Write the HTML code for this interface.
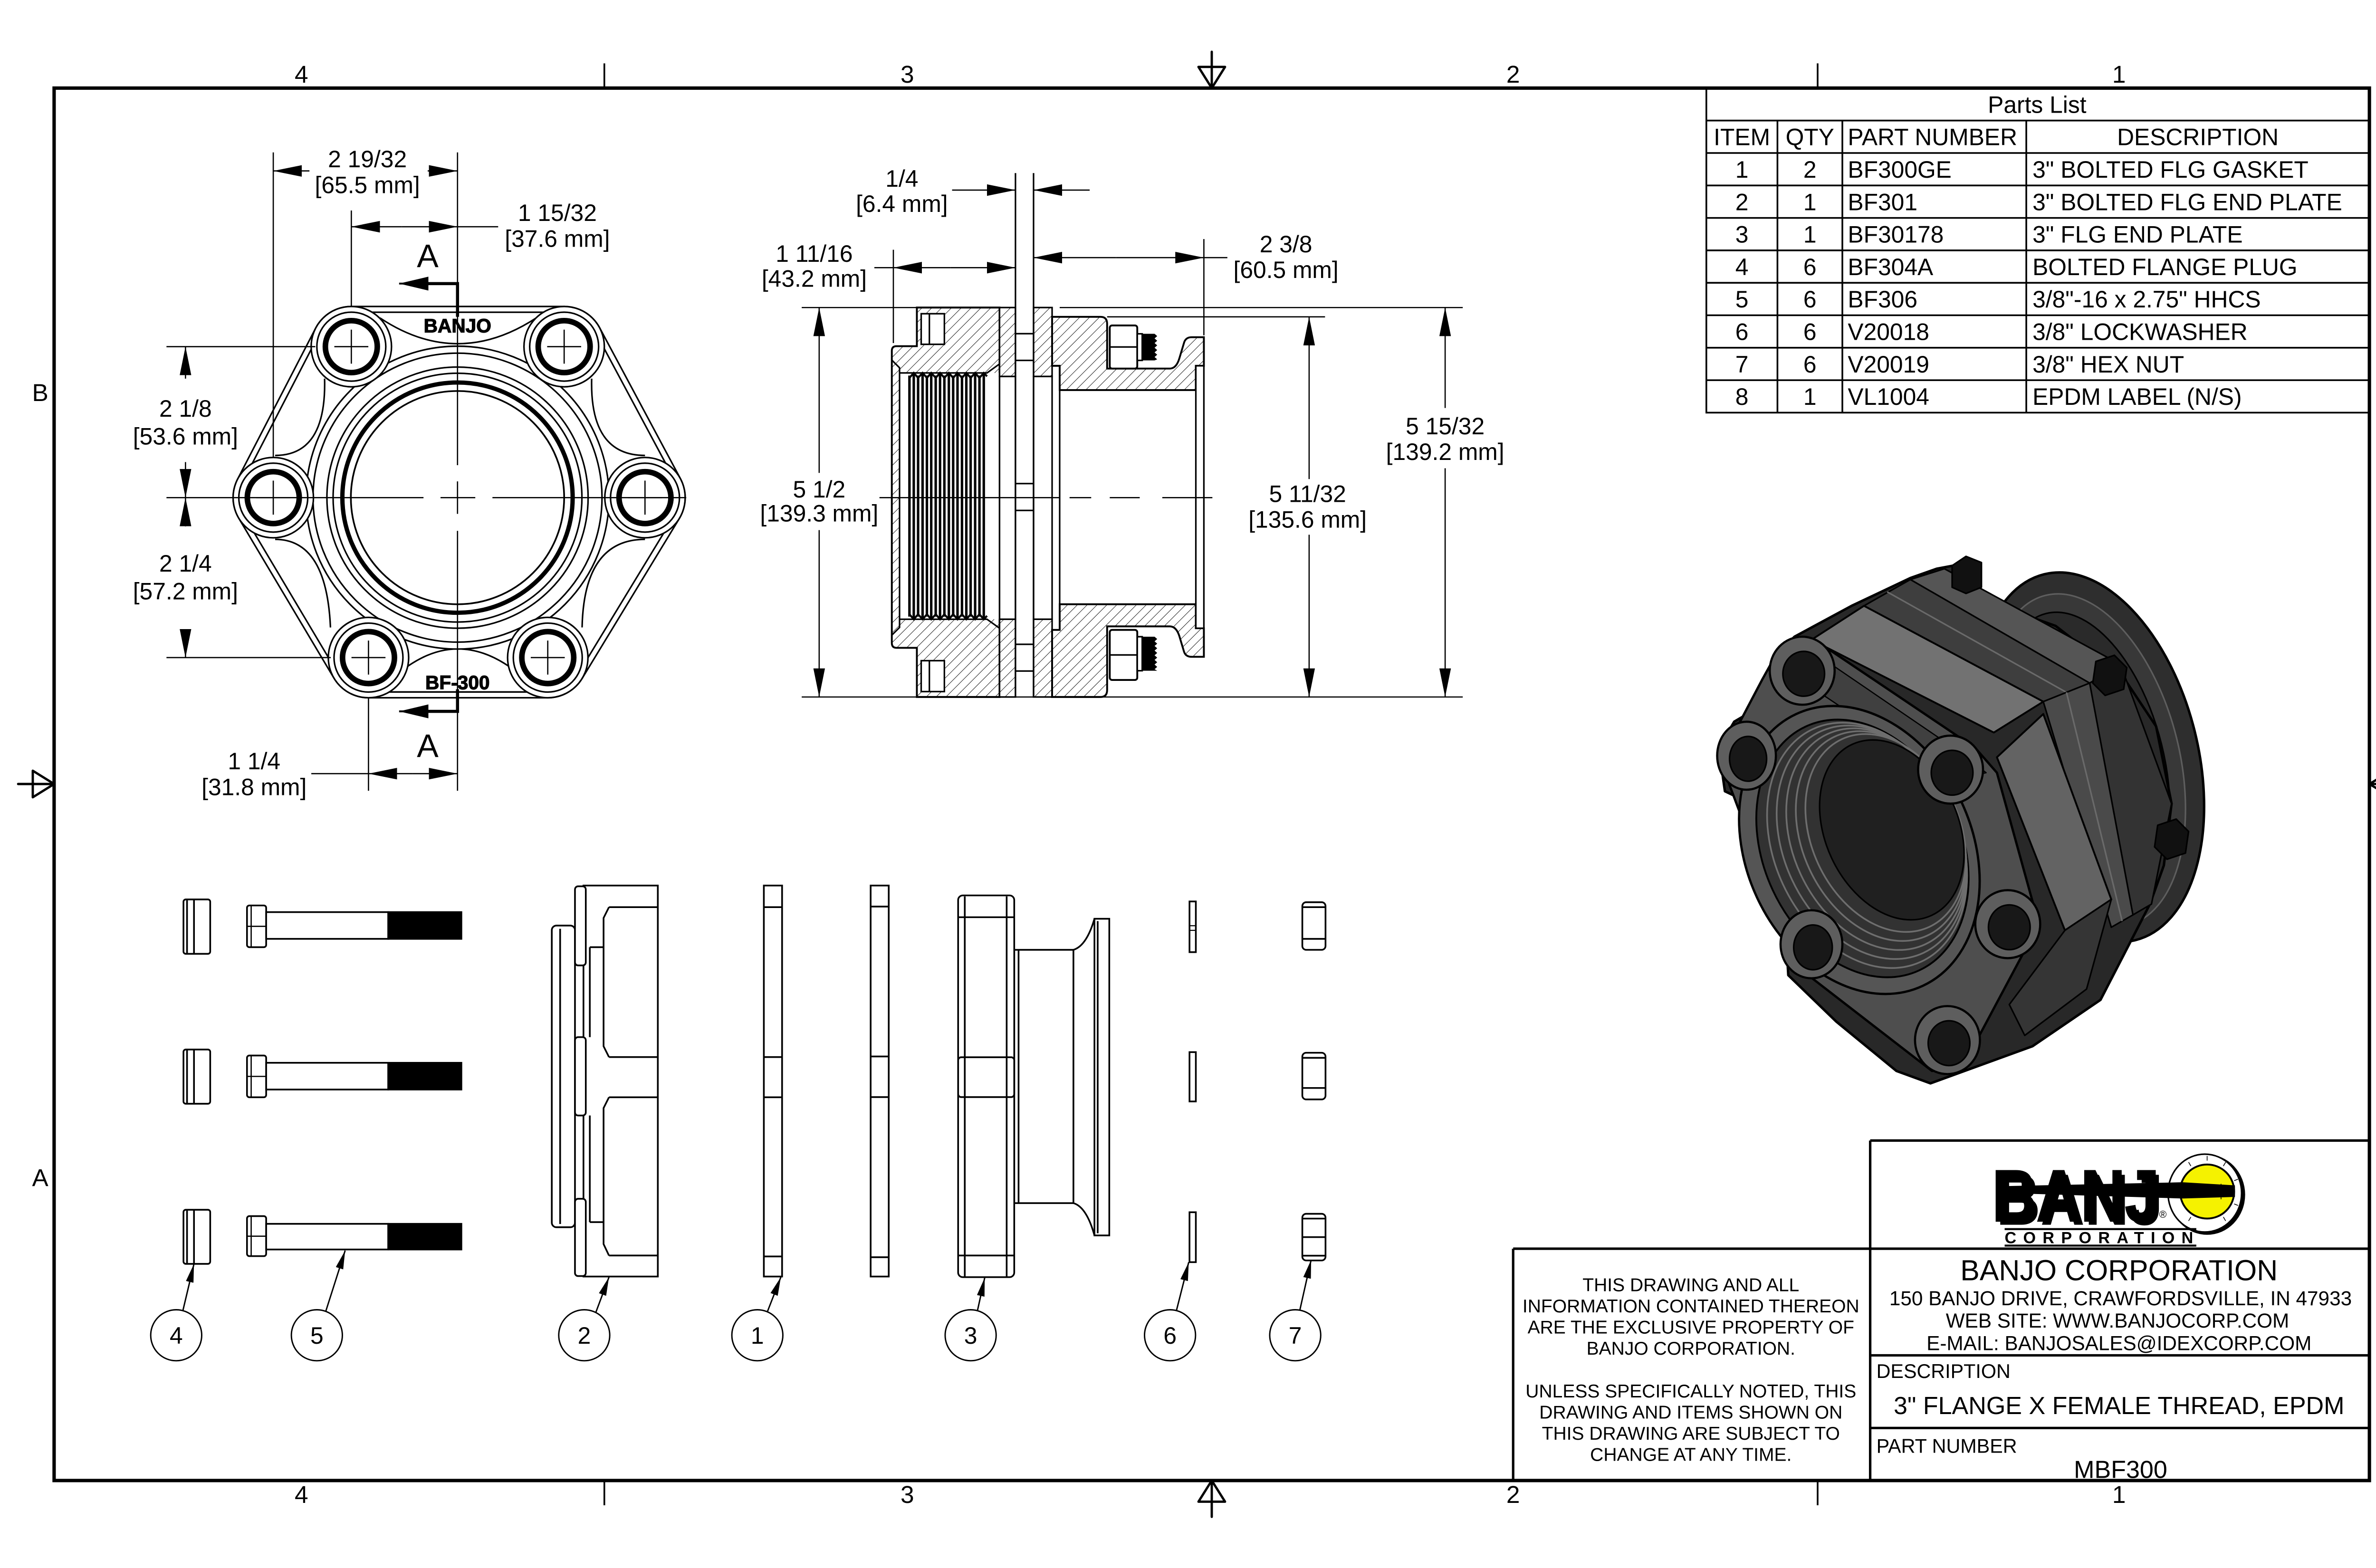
<!DOCTYPE html>
<html><head><meta charset="utf-8">
<style>
html,body{margin:0;padding:0;background:#fff;}
svg{display:block;}
text{font-family:"Liberation Sans",Arial,sans-serif;fill:#000;}
</style></head><body>
<svg xmlns="http://www.w3.org/2000/svg" width="5100" height="3300" viewBox="0 0 1568 1014.6">
<defs>
<pattern id="h" patternUnits="userSpaceOnUse" width="4.5" height="4.5" patternTransform="rotate(45)">
<rect width="4.5" height="4.5" fill="#fff"/>
<line x1="0" y1="0" x2="0" y2="4.5" stroke="#000" stroke-width="0.55"/>
</pattern>
<marker id="a" viewBox="0 0 18.5 7.5" refX="18.5" refY="3.75" markerWidth="18.5" markerHeight="7.5" markerUnits="userSpaceOnUse" orient="auto"><path d="M0,0 L18.5,3.75 L0,7.5 Z" fill="#000"/></marker>
<marker id="s" viewBox="0 0 19 9" refX="19" refY="4.5" markerWidth="19" markerHeight="9" markerUnits="userSpaceOnUse" orient="auto"><path d="M0,0 L19,4.5 L0,9 Z" fill="#000"/></marker>
<marker id="b" viewBox="0 0 12 5" refX="12" refY="2.5" markerWidth="12" markerHeight="5" markerUnits="userSpaceOnUse" orient="auto"><path d="M0,0 L12,2.5 L0,5 Z" fill="#000"/></marker>
</defs>
<rect x="0" y="0" width="1568" height="1014.6" fill="#fff"/>

<!-- ===== BORDER ===== -->
<rect x="35" y="57" width="1498" height="901" fill="none" stroke="#000" stroke-width="2.2"/>
<g stroke="#000" stroke-width="1.1">
<line x1="391" y1="41" x2="391" y2="57"/><line x1="1176" y1="41" x2="1176" y2="57"/>
<line x1="391" y1="958" x2="391" y2="974"/><line x1="1176" y1="958" x2="1176" y2="974"/>
</g>
<g fill="none" stroke="#000" stroke-width="1.5" stroke-linejoin="round" stroke-linecap="round">
<line x1="784" y1="33.5" x2="784" y2="57"/><path d="M775.4,43.3 L792.6,43.3 L784,57 Z"/>
<line x1="784" y1="958" x2="784" y2="981.5"/><path d="M775.4,971.7 L792.6,971.7 L784,958 Z"/>
<line x1="11.7" y1="507.3" x2="35" y2="507.3"/><path d="M21.2,498.7 L21.2,515.9 L35,507.3 Z"/>
<line x1="1533" y1="507.3" x2="1556.6" y2="507.3"/><path d="M1547.3,498.7 L1547.3,515.9 L1533,507.3 Z"/>
</g>
<g font-size="15.8" text-anchor="middle">
<text x="195" y="53.5">4</text><text x="587" y="53.5">3</text><text x="979" y="53.5">2</text><text x="1371" y="53.5">1</text>
<text x="195" y="972.5">4</text><text x="587" y="972.5">3</text><text x="979" y="972.5">2</text><text x="1371" y="972.5">1</text>
<text x="26" y="259.5">B</text><text x="26" y="767.5">A</text>
<text x="1543" y="259.5">B</text><text x="1543" y="767.5">A</text>
</g>

<!-- ===== PARTS LIST ===== -->
<g stroke="#000" stroke-width="1.1" fill="none">
<rect x="1104" y="57" width="429" height="210"/>
<line x1="1104" y1="78" x2="1533" y2="78"/>
<line x1="1104" y1="99" x2="1533" y2="99"/>
<line x1="1104" y1="120" x2="1533" y2="120"/>
<line x1="1104" y1="141" x2="1533" y2="141"/>
<line x1="1104" y1="162" x2="1533" y2="162"/>
<line x1="1104" y1="183" x2="1533" y2="183"/>
<line x1="1104" y1="204" x2="1533" y2="204"/>
<line x1="1104" y1="225" x2="1533" y2="225"/>
<line x1="1104" y1="246" x2="1533" y2="246"/>
<line x1="1150" y1="78" x2="1150" y2="267"/>
<line x1="1192" y1="78" x2="1192" y2="267"/>
<line x1="1311" y1="78" x2="1311" y2="267"/>
</g>
<g font-size="15.3">
<text x="1318" y="73" text-anchor="middle">Parts List</text>
<text x="1127" y="94" text-anchor="middle">ITEM</text>
<text x="1171" y="94" text-anchor="middle">QTY</text>
<text x="1195.5" y="94">PART NUMBER</text>
<text x="1422" y="94" text-anchor="middle">DESCRIPTION</text>
<g text-anchor="middle">
<text x="1127" y="115">1</text><text x="1171" y="115">2</text>
<text x="1127" y="136">2</text><text x="1171" y="136">1</text>
<text x="1127" y="157">3</text><text x="1171" y="157">1</text>
<text x="1127" y="178">4</text><text x="1171" y="178">6</text>
<text x="1127" y="199">5</text><text x="1171" y="199">6</text>
<text x="1127" y="220">6</text><text x="1171" y="220">6</text>
<text x="1127" y="241">7</text><text x="1171" y="241">6</text>
<text x="1127" y="262">8</text><text x="1171" y="262">1</text>
</g>
<text x="1195.5" y="115">BF300GE</text><text x="1315" y="115">3" BOLTED FLG GASKET</text>
<text x="1195.5" y="136">BF301</text><text x="1315" y="136">3" BOLTED FLG END PLATE</text>
<text x="1195.5" y="157">BF30178</text><text x="1315" y="157">3" FLG END PLATE</text>
<text x="1195.5" y="178">BF304A</text><text x="1315" y="178">BOLTED FLANGE PLUG</text>
<text x="1195.5" y="199">BF306</text><text x="1315" y="199">3/8"-16 x 2.75" HHCS</text>
<text x="1195.5" y="220">V20018</text><text x="1315" y="220">3/8" LOCKWASHER</text>
<text x="1195.5" y="241">V20019</text><text x="1315" y="241">3/8" HEX NUT</text>
<text x="1195.5" y="262">VL1004</text><text x="1315" y="262">EPDM LABEL (N/S)</text>
</g>

<!-- ===== TITLE BLOCK ===== -->
<g stroke="#000" stroke-width="1.6" fill="none">
<line x1="1210" y1="738" x2="1533" y2="738"/>
<line x1="1210" y1="738" x2="1210" y2="958"/>
<line x1="979" y1="808" x2="1533" y2="808"/>
<line x1="979" y1="808" x2="979" y2="958"/>
<line x1="1210" y1="877" x2="1533" y2="877"/>
<line x1="1210" y1="924" x2="1533" y2="924"/>
</g>
<g font-size="12" text-anchor="middle">
<text x="1094" y="835.5">THIS DRAWING AND ALL</text>
<text x="1094" y="849.2">INFORMATION CONTAINED THEREON</text>
<text x="1094" y="862.9">ARE THE EXCLUSIVE PROPERTY OF</text>
<text x="1094" y="876.6">BANJO CORPORATION.</text>
<text x="1094" y="904.2">UNLESS SPECIFICALLY NOTED, THIS</text>
<text x="1094" y="917.9">DRAWING AND ITEMS SHOWN ON</text>
<text x="1094" y="931.6">THIS DRAWING ARE SUBJECT TO</text>
<text x="1094" y="945.3">CHANGE AT ANY TIME.</text>
</g>
<text x="1371" y="828.4" font-size="18.7" text-anchor="middle">BANJO CORPORATION</text>
<g font-size="13" text-anchor="middle">
<text x="1372" y="844.6">150 BANJO DRIVE, CRAWFORDSVILLE, IN 47933</text>
<text x="1370" y="859.1">WEB SITE: WWW.BANJOCORP.COM</text>
<text x="1371" y="873.6">E-MAIL: BANJOSALES@IDEXCORP.COM</text>
</g>
<text x="1214" y="891.6" font-size="12.7">DESCRIPTION</text>
<text x="1371" y="915" font-size="16" text-anchor="middle">3" FLANGE X FEMALE THREAD, EPDM</text>
<text x="1214" y="940" font-size="12.7">PART NUMBER</text>
<text x="1372" y="956.3" font-size="16" text-anchor="middle">MBF300</text>

<!-- logo -->
<g>
<text x="1291.5" y="792.5" font-size="47" font-weight="bold" textLength="108" lengthAdjust="spacingAndGlyphs" fill="#000">BANJ</text>
<text x="1289" y="790" font-size="47" font-weight="bold" textLength="108" lengthAdjust="spacingAndGlyphs" fill="#f5f200" stroke="#000" stroke-width="1.1">BANJ</text>
<ellipse cx="1428" cy="773" rx="24.6" ry="26" fill="#000"/>
<ellipse cx="1426.5" cy="772" rx="23.8" ry="25.2" fill="#fff" stroke="#000" stroke-width="1"/>
<circle cx="1428" cy="771" r="17.5" fill="#f5f200" stroke="#000" stroke-width="1.2"/>
<g stroke="#000" stroke-width="0.5">
<line x1="1428" y1="748" x2="1428" y2="751"/><line x1="1440" y1="752" x2="1438.5" y2="754.5"/><line x1="1416" y1="752" x2="1417.5" y2="754.5"/>
<line x1="1448" y1="763" x2="1445.5" y2="764"/><line x1="1448" y1="780" x2="1445.5" y2="779"/><line x1="1440" y1="790" x2="1438.5" y2="787.5"/><line x1="1416" y1="790" x2="1417.5" y2="787.5"/>
<line x1="1412" y1="768.5" x2="1446" y2="768.5"/><line x1="1412" y1="773.5" x2="1446" y2="773.5"/><line x1="1437" y1="766" x2="1437" y2="776"/>
</g>
<path d="M1298,767.5 L1412,765 L1446,767 L1446,774.5 L1412,775.5 L1298,772 Z" fill="#000"/>
<text x="1397" y="788" font-size="6.5">®</text>
<line x1="1297" y1="795.3" x2="1421" y2="795.3" stroke="#000" stroke-width="1.3"/>
<text x="1297" y="804.5" font-size="10.5" font-weight="bold" textLength="122" lengthAdjust="spacing">CORPORATION</text>
<line x1="1297" y1="806" x2="1421" y2="806" stroke="#000" stroke-width="1.3"/>
</g>

<!-- ===== FRONT VIEW ===== -->
<g stroke-linejoin="round">
<polygon points="227.3,224.3 365,224.3 417.3,322 354.4,425.5 238.4,425.5 176.8,322" fill="none" stroke="#000" stroke-width="53"/>
<polygon points="227.3,224.3 365,224.3 417.3,322 354.4,425.5 238.4,425.5 176.8,322" fill="none" stroke="#fff" stroke-width="51"/>
<polygon points="227.3,224.3 365,224.3 417.3,322 354.4,425.5 238.4,425.5 176.8,322" fill="none" stroke="#000" stroke-width="45.5"/>
<polygon points="227.3,224.3 365,224.3 417.3,322 354.4,425.5 238.4,425.5 176.8,322" fill="none" stroke="#fff" stroke-width="43.5"/>
<polygon points="227.3,224.3 365,224.3 417.3,322 354.4,425.5 238.4,425.5 176.8,322" fill="#fff" stroke="none"/>
</g>
<g fill="none" stroke="#000" stroke-width="1">
<path d="M245.8,205.7 Q296,239.1 347,205.7"/>
<path d="M262,432.4 Q296,407.4 331,432.4"/>
<path d="M210,245 Q211.3,294.7 178,294.7"/>
<path d="M382.8,245 Q381.5,294.7 417.3,294.7"/>
<path d="M178,349 Q211.3,349 213.8,406"/>
<path d="M417.3,349 Q377.8,349 376.6,406"/>
</g>
<g fill="none" stroke="#000">
<circle cx="296" cy="322" r="98" fill="#fff" stroke-width="1"/>
<circle cx="296" cy="322" r="93.5" stroke-width="1"/>
<circle cx="296" cy="322" r="84.5" stroke-width="1"/>
<circle cx="296" cy="322" r="80.5" stroke-width="1"/>
<circle cx="296" cy="322" r="74.5" stroke-width="2.8"/>
<circle cx="296" cy="322" r="69" stroke-width="1.1"/>
</g>
<g stroke="#000" fill="#fff">
<g transform="translate(227.3,224.3)"><circle r="26" stroke-width="1"/><circle r="22.3" fill="none" stroke-width="1"/><circle r="16.8" fill="none" stroke-width="3.6"/><path d="M-11,0H11M0,-11V11" stroke-width="0.8"/></g>
<g transform="translate(365,224.3)"><circle r="26" stroke-width="1"/><circle r="22.3" fill="none" stroke-width="1"/><circle r="16.8" fill="none" stroke-width="3.6"/><path d="M-11,0H11M0,-11V11" stroke-width="0.8"/></g>
<g transform="translate(176.8,322)"><circle r="26" stroke-width="1"/><circle r="22.3" fill="none" stroke-width="1"/><circle r="16.8" fill="none" stroke-width="3.6"/><path d="M-11,0H11M0,-11V11" stroke-width="0.8"/></g>
<g transform="translate(417.3,322)"><circle r="26" stroke-width="1"/><circle r="22.3" fill="none" stroke-width="1"/><circle r="16.8" fill="none" stroke-width="3.6"/><path d="M-11,0H11M0,-11V11" stroke-width="0.8"/></g>
<g transform="translate(238.4,425.5)"><circle r="26" stroke-width="1"/><circle r="22.3" fill="none" stroke-width="1"/><circle r="16.8" fill="none" stroke-width="3.6"/><path d="M-11,0H11M0,-11V11" stroke-width="0.8"/></g>
<g transform="translate(354.4,425.5)"><circle r="26" stroke-width="1"/><circle r="22.3" fill="none" stroke-width="1"/><circle r="16.8" fill="none" stroke-width="3.6"/><path d="M-11,0H11M0,-11V11" stroke-width="0.8"/></g>
</g>
<text x="296" y="215" font-size="12.5" font-weight="bold" text-anchor="middle" stroke="#000" stroke-width="0.4">BANJO</text>
<text x="296" y="446" font-size="12.5" font-weight="bold" text-anchor="middle" stroke="#000" stroke-width="0.4">BF-300</text>
<!-- centerlines and extension lines -->
<g stroke="#000" stroke-width="0.8" fill="none">
<line x1="107.7" y1="322" x2="274" y2="322"/>
<line x1="285" y1="322" x2="307.5" y2="322"/>
<line x1="318.6" y1="322" x2="444" y2="322"/>
<line x1="296" y1="98.6" x2="296" y2="301"/>
<line x1="296" y1="311.5" x2="296" y2="332.5"/>
<line x1="296" y1="343.5" x2="296" y2="511.7"/>
<line x1="176.8" y1="98.6" x2="176.8" y2="296"/>
<line x1="227.3" y1="136.2" x2="227.3" y2="198"/>
<line x1="238.4" y1="452" x2="238.4" y2="511.7"/>
<line x1="107.7" y1="224.3" x2="204" y2="224.3"/>
<line x1="107.7" y1="425.5" x2="214" y2="425.5"/>
<!-- dims -->
<line x1="200.2" y1="110.6" x2="176.8" y2="110.6" marker-end="url(#a)"/>
<line x1="276.7" y1="110.6" x2="296" y2="110.6" marker-end="url(#a)"/>
<line x1="296" y1="146.7" x2="322.3" y2="146.7"/>
<line x1="260" y1="146.7" x2="227.3" y2="146.7" marker-end="url(#a)"/>
<line x1="260" y1="146.7" x2="296" y2="146.7" marker-end="url(#a)"/>
<line x1="120" y1="245" x2="120" y2="224.3" marker-end="url(#a)"/>
<line x1="120" y1="299" x2="120" y2="322" marker-end="url(#a)"/>
<line x1="120" y1="340.6" x2="120" y2="322" marker-end="url(#a)"/>
<line x1="120" y1="407.4" x2="120" y2="425.5" marker-end="url(#a)"/>
<line x1="201.4" y1="500.6" x2="238.4" y2="500.6"/>
<line x1="267" y1="500.6" x2="238.4" y2="500.6" marker-end="url(#a)"/>
<line x1="267" y1="500.6" x2="296" y2="500.6" marker-end="url(#a)"/>
</g>
<!-- section line -->
<g stroke="#000" stroke-width="2" fill="none">
<path d="M296,205 V183.5 H277"/>
<line x1="280" y1="183.5" x2="258.2" y2="183.5" stroke-width="1.2" marker-end="url(#s)"/>
<path d="M296,446 V460.3 H277"/>
<line x1="280" y1="460.3" x2="258.2" y2="460.3" stroke-width="1.2" marker-end="url(#s)"/>
</g>
<text x="276.7" y="172.9" font-size="21" text-anchor="middle">A</text>
<text x="276.7" y="490" font-size="21" text-anchor="middle">A</text>
<g font-size="15.3" text-anchor="middle">
<text x="237.7" y="108.3">2 19/32</text><text x="237.7" y="125">[65.5 mm]</text>
<text x="360.6" y="143">1 15/32</text><text x="360.6" y="159.7">[37.6 mm]</text>
<text x="120" y="269.6">2 1/8</text><text x="120" y="287.7">[53.6 mm]</text>
<text x="120" y="369.8">2 1/4</text><text x="120" y="387.9">[57.2 mm]</text>
<text x="164.4" y="497.8">1 1/4</text><text x="164.4" y="514.5">[31.8 mm]</text>
</g>

<!-- ===== SIDE SECTION VIEW ===== -->
<!-- part 2 -->
<path d="M593.2,199 H646.7 V451 H593.2 V419.2 H580 Q577,419.2 577,416 V227 Q577,224 580,224 H593.2 Z" fill="url(#h)" stroke="#000" stroke-width="1.2"/>
<rect x="582" y="241.3" width="64.7" height="159.4" fill="#fff"/>
<g fill="#fff" stroke="#000" stroke-width="1">
<rect x="596" y="203" width="15" height="19.8"/>
<rect x="596" y="427.5" width="15" height="20"/>
</g>
<g stroke="#000" fill="none" stroke-width="1">
<line x1="601.3" y1="203" x2="601.3" y2="222.8"/>
<line x1="601.3" y1="427.5" x2="601.3" y2="447.5"/>
<path d="M577,233 L582,238 V406 L577,411"/>
<path d="M582,241.3 H638.6 L646.7,235.5"/>
<path d="M582,400.7 H638.6 L646.7,406.5"/>
<line x1="646.7" y1="199" x2="646.7" y2="451"/>
<polyline points="588.4,244.5 591.2,241.3 594,244.5 596.9,241.3 599.7,244.5 602.5,241.3 605.4,244.5 608.2,241.3 611,244.5 613.9,241.3 616.7,244.5 619.5,241.3 622.4,244.5 625.2,241.3 628,244.5 630.9,241.3 633.7,244.5 636.5,241.3 638.6,243.5" stroke-width="1.3"/>
<polyline points="588.4,397.5 591.2,400.7 594,397.5 596.9,400.7 599.7,397.5 602.5,400.7 605.4,397.5 608.2,400.7 611,397.5 613.9,400.7 616.7,397.5 619.5,400.7 622.4,397.5 625.2,400.7 628,397.5 630.9,400.7 633.7,397.5 636.5,400.7 638.6,398.5" stroke-width="1.3"/>
</g>
<g stroke="#000" stroke-width="1.6">
<line x1="588.4" y1="243" x2="588.4" y2="399"/><line x1="591.2" y1="241.3" x2="591.2" y2="400.7"/>
<line x1="594" y1="243" x2="594" y2="399"/><line x1="596.9" y1="241.3" x2="596.9" y2="400.7"/>
<line x1="599.7" y1="243" x2="599.7" y2="399"/><line x1="602.5" y1="241.3" x2="602.5" y2="400.7"/>
<line x1="605.4" y1="243" x2="605.4" y2="399"/><line x1="608.2" y1="241.3" x2="608.2" y2="400.7"/>
<line x1="611" y1="243" x2="611" y2="399"/><line x1="613.9" y1="241.3" x2="613.9" y2="400.7"/>
<line x1="616.7" y1="243" x2="616.7" y2="399"/><line x1="619.5" y1="241.3" x2="619.5" y2="400.7"/>
<line x1="622.4" y1="243" x2="622.4" y2="399"/><line x1="625.2" y1="241.3" x2="625.2" y2="400.7"/>
<line x1="628" y1="243" x2="628" y2="399"/><line x1="630.9" y1="241.3" x2="630.9" y2="400.7"/>
<line x1="633.7" y1="243" x2="633.7" y2="399"/><line x1="636.5" y1="241.3" x2="636.5" y2="400.7"/>
</g>
<!-- gaskets -->
<g stroke="#000" stroke-width="1">
<rect x="646.7" y="199" width="10.3" height="44.6" fill="url(#h)"/>
<rect x="646.7" y="243.6" width="10.3" height="157.1" fill="#fff"/>
<rect x="646.7" y="400.7" width="10.3" height="50.3" fill="url(#h)"/>
<rect x="668.7" y="199" width="12" height="44.6" fill="url(#h)"/>
<rect x="668.7" y="243.6" width="12" height="157.1" fill="#fff"/>
<rect x="668.7" y="400.7" width="12" height="50.3" fill="url(#h)"/>
<line x1="657" y1="112" x2="657" y2="451"/>
<line x1="668.7" y1="112" x2="668.7" y2="451"/>
<line x1="657" y1="215.9" x2="668.7" y2="215.9"/><line x1="657" y1="233.2" x2="668.7" y2="233.2"/>
<line x1="657" y1="312.9" x2="668.7" y2="312.9"/><line x1="657" y1="330.3" x2="668.7" y2="330.3"/>
<line x1="657" y1="416.9" x2="668.7" y2="416.9"/><line x1="657" y1="434.2" x2="668.7" y2="434.2"/>
</g>
<!-- part 3 -->
<path d="M680.7,205 H712 Q716.3,205 716.3,209.5 V238.5 H756.8 Q761,238.5 763,232 L766,222 Q767,218.2 771,218.2 H778.9 V236.7 H773.7 V252.4 H685.6 V236.7 H680.7 Z" fill="url(#h)" stroke="#000" stroke-width="1.2"/>
<path d="M680.7,451 H712 Q716.3,451 716.3,446.5 V405.3 H756.8 Q761,405.3 763,411.5 L766,421.5 Q767,425 771,425 H778.9 V406.5 H773.7 V391 H685.6 V407.6 H680.7 Z" fill="url(#h)" stroke="#000" stroke-width="1.2"/>
<g stroke="#000" stroke-width="1" fill="#fff">
<rect x="773.7" y="236.7" width="5.2" height="169.8"/>
<line x1="685.6" y1="236.7" x2="685.6" y2="407.6"/>
<line x1="685.6" y1="252.4" x2="773.7" y2="252.4"/>
<line x1="685.6" y1="391" x2="773.7" y2="391"/>
<rect x="718" y="210.6" width="17.8" height="27.9" rx="1.5" stroke-width="1.2"/>
<line x1="718" y1="224.5" x2="735.8" y2="224.5"/>
<rect x="735.8" y="216" width="3.2" height="17.2"/>
<rect x="718" y="407.6" width="17.8" height="32.4" rx="1.5" stroke-width="1.2"/>
<line x1="718" y1="423.8" x2="735.8" y2="423.8"/>
<rect x="735.8" y="412" width="3.2" height="22"/>
</g>
<g fill="#000">
<path d="M739,216 H747 L748.7,217.5 L747,219 L748.7,220.5 L747,222 L748.7,223.5 L747,225 L748.7,226.5 L747,228 L748.7,229.5 L747,231 L748.7,232.5 L747,233.2 H739 Z"/>
<path d="M739,412 H747 L748.7,413.5 L747,415 L748.7,416.5 L747,418 L748.7,419.5 L747,421 L748.7,422.5 L747,424 L748.7,425.5 L747,427 L748.7,428.5 L747,430 L748.7,431.5 L747,433 L748.7,434 H739 Z"/>
</g>
<!-- side view centerline & dims -->
<g stroke="#000" stroke-width="0.8" fill="none">
<line x1="569" y1="322" x2="686" y2="322"/>
<line x1="692" y1="322" x2="706" y2="322"/>
<line x1="718" y1="322" x2="737.4" y2="322"/>
<line x1="752" y1="322" x2="784.4" y2="322"/>
<line x1="518.7" y1="199" x2="657" y2="199"/>
<line x1="685.6" y1="199" x2="946.4" y2="199"/>
<line x1="518.7" y1="451" x2="946.4" y2="451"/>
<line x1="716.3" y1="205" x2="857.3" y2="205"/>
<line x1="578" y1="161.6" x2="578" y2="222"/>
<line x1="778.9" y1="154.7" x2="778.9" y2="217"/>
<line x1="616" y1="123" x2="657" y2="123" marker-end="url(#a)"/>
<line x1="705" y1="123" x2="668.7" y2="123" marker-end="url(#a)"/>
<line x1="565.7" y1="173.2" x2="578" y2="173.2"/>
<line x1="615" y1="173.2" x2="578" y2="173.2" marker-end="url(#a)"/>
<line x1="615" y1="173.2" x2="657" y2="173.2" marker-end="url(#a)"/>
<line x1="778.9" y1="166.7" x2="794.1" y2="166.7"/>
<line x1="722" y1="166.7" x2="668.7" y2="166.7" marker-end="url(#a)"/>
<line x1="722" y1="166.7" x2="778.9" y2="166.7" marker-end="url(#a)"/>
<line x1="530" y1="306" x2="530" y2="199" marker-end="url(#a)"/>
<line x1="530" y1="343" x2="530" y2="451" marker-end="url(#a)"/>
<line x1="847" y1="310" x2="847" y2="205" marker-end="url(#a)"/>
<line x1="847" y1="346" x2="847" y2="451" marker-end="url(#a)"/>
<line x1="935" y1="264" x2="935" y2="199" marker-end="url(#a)"/>
<line x1="935" y1="303" x2="935" y2="451" marker-end="url(#a)"/>
</g>
<g font-size="15.3" text-anchor="middle">
<text x="583.5" y="120.9">1/4</text><text x="583.5" y="137.1">[6.4 mm]</text>
<text x="526.8" y="169.4">1 11/16</text><text x="526.8" y="185.6">[43.2 mm]</text>
<text x="832" y="163.2">2 3/8</text><text x="832" y="179.8">[60.5 mm]</text>
<text x="530" y="321.9">5 1/2</text><text x="530" y="337.4">[139.3 mm]</text>
<text x="846" y="324.9">5 11/32</text><text x="846" y="341.5">[135.6 mm]</text>
<text x="935" y="281">5 15/32</text><text x="935" y="297.6">[139.2 mm]</text>
</g>

<!-- ===== EXPLODED PARTS ===== -->
<g stroke="#000" stroke-width="1.1" fill="#fff">
<!-- item 4 -->
<rect x="118.7" y="582" width="17.3" height="35.2" rx="1.5"/><path d="M121,582.5V616.7M125.5,582V617.2" fill="none"/>
<rect x="118.7" y="679.1" width="17.3" height="35.1" rx="1.5"/><path d="M121,679.6V713.7M125.5,679.1V714.2" fill="none"/>
<rect x="118.7" y="782.8" width="17.3" height="35" rx="1.5"/><path d="M121,783.3V817.3M125.5,782.8V817.8" fill="none"/>
<!-- item 5 -->
<rect x="159.8" y="585.9" width="12.4" height="27" rx="1.5"/><path d="M159.8,599.4H172.2M162.5,586V612.8" fill="none" stroke-width="0.8"/>
<rect x="172.2" y="590.2" width="79" height="17.3"/>
<rect x="251.2" y="590.2" width="47.3" height="17.3" fill="#000"/>
<rect x="159.8" y="683" width="12.4" height="27" rx="1.5"/><path d="M159.8,696.5H172.2M162.5,683V710" fill="none" stroke-width="0.8"/>
<rect x="172.2" y="687.7" width="79" height="17.3"/>
<rect x="251.2" y="687.7" width="47.3" height="17.3" fill="#000"/>
<rect x="159.8" y="786.9" width="12.4" height="25.9" rx="1.5"/><path d="M159.8,799.9H172.2M162.5,787V812.7" fill="none" stroke-width="0.8"/>
<rect x="172.2" y="791.9" width="79" height="16.6"/>
<rect x="251.2" y="791.9" width="47.3" height="16.6" fill="#000"/>
<!-- item 2 -->
<rect x="357" y="598.9" width="15" height="195.2" rx="3"/>
<line x1="362.4" y1="601" x2="362.4" y2="792"/>
<rect x="377.5" y="573" width="48.1" height="253"/>
<rect x="372" y="573.5" width="7" height="51.2" rx="2"/>
<rect x="372" y="671.1" width="7" height="50.7" rx="2"/>
<rect x="372" y="775.7" width="7" height="50" rx="2"/>
<path d="M394,587 H425.6 M394,684 H425.6 M394,710 H425.6 M394,812.4 H425.6 M394,587 L390.5,594 V677 L394,684 M394,710 L390.5,717 V805 L394,812.4 M381.6,612.9 V671.1 M381.6,721.8 V790.8 M381.6,612.9 H390.5 M381.6,790.8 H390.5" fill="none"/>
<!-- item 1 gaskets -->
<rect x="494.2" y="573" width="11.8" height="253"/>
<path d="M494.2,587H506M494.2,684H506M494.2,710H506M494.2,813H506" fill="none"/>
<rect x="563.3" y="573" width="11.7" height="253"/>
<path d="M563.3,586.6H575M563.3,683.6H575M563.3,709.9H575M563.3,813.5H575" fill="none"/>
<!-- item 3 -->
<path d="M694.5,614.6 Q703,612 708.1,594.5 M694.5,778.5 Q703,781 708.1,799.4" fill="none"/>
<rect x="656.2" y="614.6" width="38.3" height="163.9"/>
<line x1="659" y1="614.6" x2="659" y2="778.5"/>
<rect x="708.1" y="594.5" width="9.6" height="204.9"/>
<line x1="710.2" y1="596" x2="710.2" y2="798"/>
<rect x="619.9" y="579.4" width="36.3" height="247" rx="3"/>
<path d="M624.2,580V826M651.3,580V826M619.9,593.5H656.2M619.9,812.4H656.2" fill="none"/>
<rect x="619.9" y="684.1" width="36.3" height="25.8" rx="2" fill="none"/>
<!-- item 6 -->
<rect x="769.6" y="583.3" width="4.1" height="32.8"/>
<path d="M769.6,599H773.7M769.6,602H773.7" fill="none" stroke-width="0.7"/>
<rect x="769.6" y="680.8" width="4.1" height="31.9"/>
<rect x="769.6" y="784.4" width="4.1" height="32.3"/>
<!-- item 7 -->
<rect x="842.6" y="583.8" width="15" height="30.8" rx="2.5"/><path d="M842.6,587H857.6M842.6,607.5H857.6" fill="none"/>
<rect x="842.6" y="681.2" width="15" height="30.2" rx="2.5"/><path d="M842.6,684.5H857.6M842.6,704H857.6" fill="none"/>
<rect x="842.6" y="785.4" width="15" height="30.2" rx="2.5"/><path d="M842.6,788.5H857.6M842.6,800.5H857.6M842.6,812.5H857.6" fill="none"/>
</g>
<!-- balloons -->
<g stroke="#000" stroke-width="0.9" fill="none">
<line x1="118.1" y1="849" x2="125.5" y2="817.8" marker-end="url(#b)"/>
<line x1="210.6" y1="849" x2="223.3" y2="809.2" marker-end="url(#b)"/>
<line x1="385.2" y1="850" x2="394" y2="826.4" marker-end="url(#b)"/>
<line x1="496.4" y1="849" x2="505.2" y2="826.4" marker-end="url(#b)"/>
<line x1="632.2" y1="849" x2="637.1" y2="826.8" marker-end="url(#b)"/>
<line x1="760.9" y1="849" x2="769.1" y2="816.7" marker-end="url(#b)"/>
<line x1="840.7" y1="849" x2="848.3" y2="815.2" marker-end="url(#b)"/>
<circle cx="114" cy="864" r="16.5" fill="#fff"/>
<circle cx="205" cy="864" r="16.5" fill="#fff"/>
<circle cx="378" cy="864" r="16.5" fill="#fff"/>
<circle cx="490" cy="864" r="16.5" fill="#fff"/>
<circle cx="628" cy="864" r="16.5" fill="#fff"/>
<circle cx="757" cy="864" r="16.5" fill="#fff"/>
<circle cx="838" cy="864" r="16.5" fill="#fff"/>
</g>
<g font-size="15.3" text-anchor="middle">
<text x="114" y="869.5">4</text><text x="205" y="869.5">5</text><text x="378" y="869.5">2</text>
<text x="490" y="869.5">1</text><text x="628" y="869.5">3</text><text x="757" y="869.5">6</text><text x="838" y="869.5">7</text>
</g>

<!-- ===== 3D RENDER ===== -->
<g stroke="#000" stroke-linejoin="round">
<ellipse cx="1352" cy="490" rx="70" ry="122" transform="rotate(-14 1352 490)" fill="#2e2e2e" stroke-width="1.6"/>
<ellipse cx="1350" cy="492" rx="60" ry="110" transform="rotate(-14 1350 492)" fill="#383838" stroke="#5e5e5e" stroke-width="1"/>
<ellipse cx="1348" cy="494" rx="52" ry="100" transform="rotate(-14 1348 494)" fill="#2a2a2a" stroke="#000" stroke-width="1"/>
<polygon points="1148,425 1161,412 1198,392 1236,374 1253,368 1269,365 1282,388 1330,405 1375,440 1395,470 1405,520 1400,560 1391,585 1359,647 1315,677 1249,701 1227,693 1188,661 1157,631 1155,597 1135,521 1116,512 1112,484 1122,467 1139,457" fill="#282828" stroke-width="1.6"/>
<polygon points="1236,375 1258,368 1372,430 1352,442" fill="#555" stroke-width="1"/>
<polygon points="1206,392 1236,375 1352,442 1322,454" fill="#3e3e3e" stroke-width="1"/>
<line x1="1221" y1="383" x2="1337" y2="448" stroke="#6a6a6a" stroke-width="1"/>
<polygon points="1352,442 1372,430 1405,520 1392,585 1380,592" fill="#333" stroke-width="1"/>
<polygon points="1322,454 1352,442 1380,592 1366,600" fill="#4a4a4a" stroke-width="1"/>
<line x1="1337" y1="448" x2="1373" y2="596" stroke="#6a6a6a" stroke-width="1"/>
<polygon points="1172,414 1206,392 1322,454 1290,474" fill="#727272" stroke-width="1.2"/>
<polygon points="1292,490 1322,462 1366,582 1336,602" fill="#636363" stroke-width="1.2"/>
<polygon points="1336,602 1366,582 1350,640 1310,670 1300,650" fill="#353535" stroke-width="1"/>
<polygon points="1150,422 1180,418 1278,484 1292,500 1318,594 1310,615 1270,690 1250,693 1166,628 1158,612 1116,500 1120,478 1140,440" fill="#4e4e4e" stroke-width="1.5"/>
<polygon points="1185,430 1270,488 1285,500 1262,505 1180,450" fill="#404040" stroke-width="0.8"/>
<ellipse cx="1203" cy="550" rx="73" ry="97" transform="rotate(-25 1203 550)" fill="#555" stroke-width="1.5"/>
<ellipse cx="1205" cy="549" rx="64" ry="87" transform="rotate(-25 1205 549)" fill="#323232" stroke-width="1.2"/>
<g fill="none" stroke="#6e6e6e" stroke-width="1.1">
<ellipse cx="1208" cy="547" rx="60" ry="83" transform="rotate(-25 1208 547)"/>
<ellipse cx="1211" cy="545" rx="57" ry="79" transform="rotate(-25 1211 545)"/>
<ellipse cx="1214" cy="543" rx="54" ry="75" transform="rotate(-25 1214 543)"/>
<ellipse cx="1217" cy="541" rx="51" ry="71" transform="rotate(-25 1217 541)"/>
<ellipse cx="1220" cy="539" rx="48" ry="67" transform="rotate(-25 1220 539)"/>
</g>
<ellipse cx="1224" cy="537" rx="43" ry="61" transform="rotate(-25 1224 537)" fill="#202020" stroke-width="1"/>
<g fill="#5e5e5e" stroke-width="1.4">
<ellipse cx="1166" cy="434" rx="21" ry="22"/><ellipse cx="1262" cy="498" rx="21" ry="22"/>
<ellipse cx="1130" cy="489" rx="19" ry="22"/><ellipse cx="1299" cy="598" rx="21" ry="22"/>
<ellipse cx="1172" cy="611" rx="20" ry="22"/><ellipse cx="1260" cy="673" rx="21" ry="22"/>
</g>
<g fill="#181818" stroke-width="1">
<ellipse cx="1167" cy="436" rx="13.5" ry="14.5"/><ellipse cx="1263" cy="500" rx="13.5" ry="14.5"/>
<ellipse cx="1131" cy="491" rx="12" ry="14.5"/><ellipse cx="1300" cy="600" rx="13.5" ry="14.5"/>
<ellipse cx="1173" cy="613" rx="12.5" ry="14.5"/><ellipse cx="1261" cy="675" rx="13.5" ry="14.5"/>
</g>
<g fill="#111" stroke-width="1">
<polygon points="1356,428 1368,424 1376,432 1374,446 1362,450 1354,442"/>
<polygon points="1396,534 1408,530 1416,538 1414,552 1402,556 1394,548"/>
<polygon points="1263,366 1272,360 1282,364 1282,380 1272,384 1263,380"/>
</g>
</g>
</svg>
</body></html>
